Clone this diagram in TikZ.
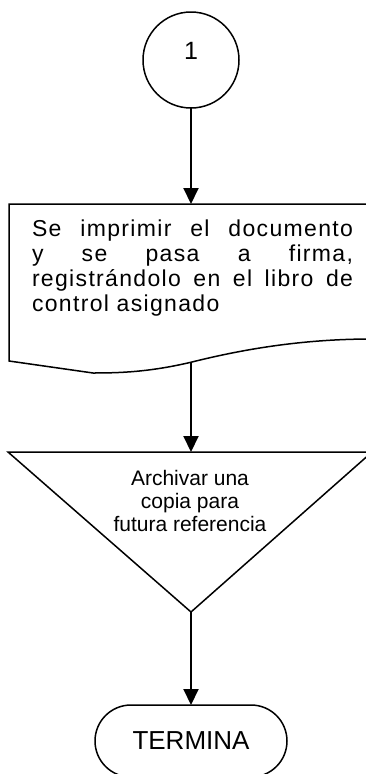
\documentclass[tikz,border=0pt]{standalone}
\usepackage{fontspec}
\setmainfont{Liberation Sans}
\usetikzlibrary{arrows.meta}
\begin{document}
\begin{tikzpicture}[x=1pt,y=-1pt,
  shapeline/.style={line width=1.5pt},
  flow/.style={line width=2pt,-{Triangle[width=15pt,length=16pt]}},
  plain/.style={inner sep=0pt,outer sep=0pt}]
\useasboundingbox (0,0) rectangle (365,774);
% start connector
\node[draw,shapeline,circle,minimum size=96pt,plain] (c1) at (191,60) {};
\node[plain,anchor=base,font=\fontsize{25}{28}\selectfont] (n1) at (191,59) {1};
% document shape
\draw[shapeline] (9,361) -- (9,204) -- (372,204) -- (372,339)
  .. controls (300,339) and (240,350) .. (192,362)
  .. controls (150,372) and (120,373) .. (93,373) -- cycle;
\coordinate (docTop) at (191,204);
\coordinate (docBot) at (191,362);
\node[plain,anchor=north west,text width=321pt,
  font=\fontsize{23}{25}\selectfont\addfontfeature{LetterSpace=5.8}] (doctext) at (32,220)
  {\makebox[321pt]{Se\hfill imprimir\hfill el\hfill documento}\\
   \makebox[321pt]{y\hfill se\hfill pasa\hfill a\hfill firma,}\\
   \makebox[321pt]{registrándolo\hfill en\hfill el\hfill libro\hfill de}\\
   control asignado};
% storage triangle
\draw[shapeline] (8,452) -- (372,452) -- (191,612) -- cycle;
\coordinate (triTop) at (191,452);
\coordinate (triBot) at (191,612);
\node[plain,anchor=north,align=center,font=\fontsize{21}{23}\selectfont] (tritext) at (190,470)
  {Archivar una\\copia para\\futura referencia};
% terminator
\node[draw,shapeline,rounded corners=36pt,minimum width=192pt,minimum height=72pt,plain,
  font=\fontsize{26}{28}\selectfont] (term) at (191,741) {TERMINA};
% connectors
\draw[flow] (c1.south) -- (docTop);
\draw[flow] (docBot) -- (triTop);
\draw[flow] (triBot) -- (term.north);
\end{tikzpicture}
\end{document}
